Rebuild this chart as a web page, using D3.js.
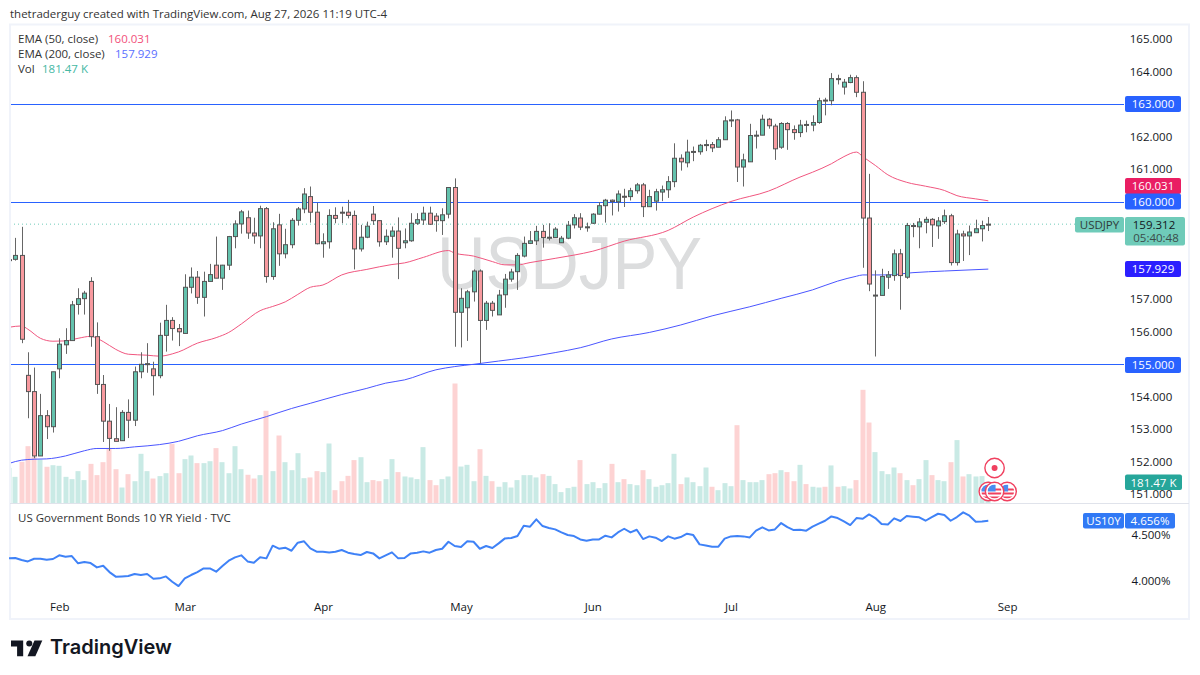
<!DOCTYPE html>
<html><head><meta charset="utf-8">
<script src="https://cdnjs.cloudflare.com/ajax/libs/d3/7.8.5/d3.min.js"></script>
<style>html,body{margin:0;padding:0;background:#fff}svg{display:block}text{font-family:"Open Sans","Noto Sans",sans-serif}</style>
</head><body><svg id="c" width="1200" height="675"></svg>
<script>
const opens=[158.20,158.23,158.35,154.66,154.16,152.18,153.42,153.08,154.86,155.60,
155.73,156.84,157.02,157.55,155.85,154.38,153.25,152.71,152.65,153.52,
153.28,154.77,155.00,154.86,154.65,155.89,156.35,156.10,155.95,157.37,
157.68,157.06,157.55,158.05,157.65,158.05,158.93,159.32,159.51,159.04,
158.95,159.79,157.70,159.29,158.40,158.68,159.43,159.78,160.16,159.68,
158.71,158.77,159.58,159.68,159.68,159.58,158.55,158.91,159.62,159.42,
158.77,158.94,159.10,158.74,158.80,159.34,159.44,159.65,159.56,159.42,
159.62,160.44,156.60,156.74,157.23,157.87,156.35,156.88,156.52,157.14,
157.62,157.85,158.33,158.72,158.80,159.09,158.90,158.90,158.74,158.88,
159.29,159.50,159.22,159.34,159.62,159.88,160.05,160.00,160.17,160.16,
160.34,160.52,159.85,160.02,160.30,160.37,160.62,161.34,161.20,161.54,
161.54,161.75,161.76,161.68,161.91,162.51,162.52,161.07,161.23,162.04,
162.05,162.54,162.33,161.68,162.41,162.22,162.13,162.38,162.36,162.44,
163.13,163.11,163.79,163.53,163.67,163.82,163.37,159.50,157.12,157.12,
157.68,157.73,158.40,157.68,159.27,159.23,159.37,159.46,159.26,159.39,
159.57,158.13,159.01,158.95,159.05,159.17,159.29];
const highs=[158.26,158.89,159.23,155.37,154.90,154.09,153.59,154.77,155.80,156.11,
156.95,157.34,157.26,157.68,156.29,154.67,153.78,153.68,153.59,153.92,
154.93,155.37,155.65,155.08,156.28,156.83,156.45,156.24,157.77,157.98,
157.87,157.85,158.09,158.93,158.06,158.95,159.43,159.75,159.73,159.51,
159.88,159.84,159.37,159.63,159.17,159.50,159.84,160.42,160.47,159.97,
159.03,159.77,159.83,159.85,160.06,159.73,159.29,159.39,159.87,159.44,
159.15,159.24,159.52,159.18,159.65,159.65,159.85,159.85,159.65,159.80,
160.44,160.72,157.34,157.29,157.92,157.92,156.95,156.95,157.29,157.78,
157.94,158.42,158.93,159.10,159.26,159.29,159.34,159.22,158.95,159.41,
159.62,159.65,159.36,159.65,159.99,160.09,160.07,160.35,160.40,160.43,
160.58,160.58,160.37,160.40,160.50,160.79,161.80,161.46,161.91,161.70,
161.78,161.91,161.84,161.99,162.63,162.81,162.55,161.48,162.40,162.19,
162.68,162.58,162.40,162.45,162.45,162.35,162.52,162.50,162.66,163.20,
163.20,163.96,163.91,163.78,163.91,163.89,163.71,160.86,157.89,157.94,
157.87,158.53,158.55,159.35,159.35,159.50,159.54,159.50,159.53,159.76,
159.63,159.14,159.11,159.27,159.45,159.42,159.53];
const lows=[158.15,158.19,155.65,153.34,152.11,152.18,152.70,152.90,154.57,155.32,
155.73,156.53,156.53,155.54,154.09,152.61,152.34,152.63,152.65,152.73,
153.10,154.57,154.74,154.04,154.57,155.39,155.73,155.56,155.95,157.18,
156.86,156.47,157.55,157.65,157.29,157.90,158.57,159.02,158.86,158.71,
158.57,157.51,157.60,158.03,158.26,158.57,159.27,159.65,159.36,158.69,
158.28,158.56,159.34,159.34,159.49,157.92,158.47,158.88,159.29,158.62,
158.67,158.28,157.62,158.57,158.77,159.29,159.29,159.29,159.08,158.98,
159.49,155.54,155.52,155.72,156.93,155.03,156.06,156.47,156.52,156.74,
157.54,157.29,158.29,158.70,158.67,158.59,158.81,158.90,158.74,158.85,
159.18,159.13,159.08,159.32,159.61,159.36,159.58,159.70,159.84,160.04,
160.25,159.53,159.85,159.73,160.02,160.12,160.45,160.96,161.06,161.25,
161.45,161.56,161.53,161.68,161.91,162.30,160.61,160.47,161.23,161.64,
162.05,162.25,161.29,161.63,161.60,161.91,161.99,162.14,162.17,162.40,
162.66,162.97,163.61,163.30,163.65,163.22,157.97,157.25,155.24,157.12,
157.32,157.57,156.68,157.63,158.91,158.57,159.03,158.61,158.86,159.32,
158.04,158.04,158.18,158.36,159.05,158.78,159.10];
const closes=[158.22,158.35,155.77,154.16,152.18,153.42,153.08,154.77,155.62,155.73,
156.83,157.02,157.19,155.85,154.38,153.25,152.72,152.63,153.52,153.28,
154.77,155.00,155.02,154.65,155.89,156.35,156.10,156.00,157.37,157.68,
157.06,157.55,157.76,157.65,158.05,158.93,159.32,159.69,159.04,158.95,
159.79,157.70,159.17,158.40,158.68,159.43,159.78,160.24,159.68,158.71,
158.77,159.58,159.49,159.67,159.58,158.55,158.91,159.25,159.42,158.77,
158.94,159.10,158.57,158.80,159.34,159.45,159.65,159.31,159.42,159.60,
160.44,156.60,157.03,157.23,157.87,156.35,156.88,156.66,157.13,157.62,
157.84,158.35,158.72,158.80,159.09,158.90,158.91,159.16,158.88,159.28,
159.51,159.22,159.23,159.62,159.88,160.05,160.01,160.24,160.16,160.34,
160.52,159.85,160.16,160.31,160.37,160.62,161.34,161.23,161.53,161.55,
161.74,161.76,161.66,161.91,162.49,162.52,161.07,161.29,162.04,162.05,
162.54,162.34,161.63,162.41,162.22,162.13,162.36,162.37,162.44,163.11,
163.12,163.79,163.78,163.68,163.82,163.37,159.50,157.47,157.13,157.70,
157.75,158.40,157.73,159.27,159.26,159.38,159.46,159.29,159.41,159.57,
158.13,159.01,158.95,159.07,159.17,159.27,159.312];
const volumesK=[294,220,344,473,385,363,303,316,311,220,
201,267,193,327,234,341,454,283,132,242,
184,410,267,206,226,250,492,250,366,396,
333,333,349,457,341,250,473,283,237,206,
234,765,267,561,341,275,415,209,215,267,
259,495,110,184,228,358,382,176,193,184,
201,366,259,223,215,201,465,193,151,201,
223,990,305,319,184,448,228,184,138,176,
132,193,234,234,215,242,228,160,94,127,
138,358,160,176,127,168,327,176,201,160,
151,275,201,138,151,168,410,160,215,176,
143,297,138,110,168,143,646,193,176,176,
193,242,250,275,259,184,319,160,138,132,
138,314,138,143,124,193,938,668,424,267,
242,297,250,193,151,201,358,234,193,184,
341,523,223,242,223,226,181.47];
const ema50Idx=[0,2,3,5,7,9,11,13,15,17,19,22,24,26,27,30,33,35,37,40,42,44,46,48,50,53,57,61,63,66,70,71,74,77,79,81,83,87,90,93,98,105,109,115,121,126,128,131,133,135,136,138,140,143,146,149,151,154,156];
const ema50=[156.14,156.18,156.08,155.80,155.71,155.72,155.80,155.86,155.70,155.46,155.31,155.28,155.25,155.32,155.38,155.65,155.82,155.98,156.24,156.65,156.78,156.92,157.15,157.37,157.44,157.75,157.92,158.07,158.12,158.29,158.50,158.42,158.33,158.16,158.06,158.06,158.13,158.26,158.36,158.48,158.79,159.12,159.53,160.01,160.33,160.76,160.91,161.17,161.39,161.53,161.39,161.12,160.83,160.60,160.48,160.35,160.19,160.09,160.031];
const ema200Idx=[0,2,4,6,9,12,14,17,20,24,27,30,34,37,41,45,48,53,57,60,63,68,71,74,78,82,87,91,96,102,107,112,118,123,128,132,135,136,140,144,149,156];
const ema200=[151.95,152.05,152.08,152.09,152.18,152.34,152.41,152.41,152.46,152.53,152.63,152.80,152.96,153.16,153.39,153.64,153.80,154.07,154.26,154.42,154.52,154.83,154.93,155.00,155.10,155.20,155.36,155.51,155.78,155.98,156.21,156.49,156.77,157.03,157.29,157.56,157.71,157.75,157.75,157.82,157.87,157.929];
const yields=[4.246,4.250,4.228,4.213,4.242,4.242,4.231,4.239,4.279,4.264,
4.271,4.192,4.206,4.195,4.148,4.166,4.097,4.047,4.050,4.054,
4.076,4.065,4.076,4.025,4.029,4.050,3.992,3.945,4.029,4.065,
4.097,4.137,4.137,4.101,4.163,4.221,4.257,4.279,4.213,4.199,
4.257,4.246,4.384,4.351,4.362,4.329,4.416,4.431,4.355,4.318,
4.318,4.311,4.318,4.337,4.308,4.293,4.282,4.315,4.300,4.246,
4.279,4.311,4.246,4.250,4.300,4.308,4.322,4.308,4.337,4.351,
4.427,4.380,4.369,4.431,4.427,4.351,4.380,4.358,4.409,4.463,
4.467,4.489,4.601,4.590,4.670,4.597,4.576,4.561,4.529,4.500,
4.489,4.452,4.438,4.452,4.452,4.492,4.474,4.528,4.568,4.528,
4.557,4.456,4.485,4.471,4.434,4.485,4.460,4.478,4.514,4.499,
4.398,4.387,4.373,4.373,4.460,4.485,4.489,4.485,4.474,4.547,
4.583,4.550,4.561,4.630,4.586,4.554,4.557,4.547,4.590,4.623,
4.655,4.702,4.684,4.648,4.608,4.684,4.677,4.724,4.684,4.619,
4.615,4.681,4.652,4.706,4.699,4.692,4.655,4.695,4.731,4.717,
4.655,4.695,4.746,4.710,4.644,4.648,4.656];
const monthLabels=["Feb","Mar","Apr","May","Jun","Jul","Aug","Sep"];
const monthIdx=[8,28,50,72,93,115,138,159];
const priceTicks=[165,164,162,161,157,156,154,153,152,151];
const levels=[163,160,155];
const yieldTicks=[4.5,4.0];
const lastPrice=159.312;

const svg=d3.select("#c");
const INK="#131722";
const x=d3.scaleLinear().domain([1,156]).range([15.3,988.3]);
const y=d3.scaleLinear().domain([155,163]).range([364.3,104.3]);
const vy=d3.scaleLinear().domain([0,990]).range([503.5,383.5]);
const yy=d3.scaleLinear().domain([4,4.5]).range([581,535]);
const px=i=>Math.round(x(i));
const idx=d3.range(closes.length);

// header
svg.append("text").attr("x",10).attr("y",17.5).attr("font-size",11.5).attr("fill","#333").text("thetraderguy created with TradingView.com, Aug 27, 2026 11:19 UTC-4");

// frame
svg.append("rect").attr("x",10).attr("y",24.5).attr("width",1179).attr("height",594.5).attr("fill","#fff").attr("stroke","#f0f3fa").attr("stroke-width",2);

const defs=svg.append("defs");
defs.append("clipPath").attr("id","pane").append("rect").attr("x",11).attr("y",26).attr("width",1113).attr("height",477.5);
const pane=svg.append("g").attr("clip-path","url(#pane)");

// watermark
pane.append("text").attr("x",437).attr("y",289).attr("font-size",74).attr("textLength",265).attr("lengthAdjust","spacingAndGlyphs").attr("fill","#dcddde").style("font-family","'Liberation Sans',sans-serif").text("USDJPY");

// volume
pane.append("g").selectAll("rect").data(idx).join("rect")
  .attr("x",i=>px(i)-2.5).attr("width",5).attr("y",i=>vy(volumesK[i])).attr("height",i=>vy(0)-vy(volumesK[i]))
  .attr("fill",i=>closes[i]>=opens[i]?"#c9eae5":"#fdd3d3");

// levels
pane.append("g").selectAll("line").data(levels).join("line")
  .attr("x1",10).attr("x2",1125).attr("y1",d=>Math.round(y(d))+.5).attr("y2",d=>Math.round(y(d))+.5)
  .attr("stroke","#2962ff").attr("stroke-width",1);

// last price
pane.append("line").attr("x1",10).attr("x2",1075).attr("y1",y(lastPrice)).attr("y2",y(lastPrice))
  .attr("stroke","#6fcbb9").attr("stroke-width",1).attr("stroke-dasharray","1 3");

// EMAs
const emaLine=d3.line().x(d=>x(d[0])).y(d=>y(d[1])).curve(d3.curveMonotoneX);
pane.append("path").attr("d",emaLine(ema200Idx.map((d,i)=>[d,ema200[i]]))).attr("fill","none").attr("stroke","#4a55ff").attr("stroke-width",1);
pane.append("path").attr("d",emaLine(ema50Idx.map((d,i)=>[d,ema50[i]]))).attr("fill","none").attr("stroke","#f0567f").attr("stroke-width",1);

// candles
const candle=pane.append("g").selectAll("g").data(idx).join("g");
candle.append("line").attr("x1",i=>px(i)+.5).attr("x2",i=>px(i)+.5)
  .attr("y1",i=>y(highs[i])).attr("y2",i=>y(lows[i])).attr("stroke","#666").attr("stroke-width",1);
candle.append("rect").attr("x",i=>px(i)-1.5).attr("width",4)
  .attr("y",i=>y(Math.max(opens[i],closes[i])))
  .attr("height",i=>Math.max(1,Math.abs(y(opens[i])-y(closes[i]))))
  .attr("fill",i=>closes[i]>=opens[i]?"#63c2ad":"#f89a9f").attr("stroke","#555").attr("stroke-width",1);

// event icons
const flagIdx=[156,157,159];
const flagY=491.5;
const iconG=svg.append("g");
defs.append("clipPath").attr("id","fc").append("circle").attr("r",7);
iconG.selectAll("g.flag").data([flagIdx[2],flagIdx[0],flagIdx[1]]).join("g").attr("class","flag")
 .attr("transform",d=>`translate(${x(d)},${flagY})`).each(function(){
   const g=d3.select(this);
   g.append("circle").attr("r",9.2).attr("fill","#fff").attr("stroke","#f0405f").attr("stroke-width",1.4);
   const f=g.append("g").attr("clip-path","url(#fc)");
   f.append("rect").attr("x",-7).attr("y",-7).attr("width",14).attr("height",14).attr("fill","#fff");
   f.append("rect").attr("x",-7).attr("y",1).attr("width",14).attr("height",2).attr("fill","#f0405f");
   f.append("rect").attr("x",-7).attr("y",5).attr("width",14).attr("height",2).attr("fill","#f0405f");
   f.append("rect").attr("x",-7).attr("y",-3).attr("width",14).attr("height",2).attr("fill","#f0405f");
   f.append("rect").attr("x",-7).attr("y",-7).attr("width",8).attr("height",7).attr("fill","#4a8cf0");
 });
iconG.append("circle").attr("cx",x(157)).attr("cy",468).attr("r",9.7).attr("fill","#fff").attr("stroke","#f0405f").attr("stroke-width",1.4);
iconG.append("circle").attr("cx",x(157)).attr("cy",468).attr("r",3).attr("fill","#f0405f");

// separator
svg.append("line").attr("x1",10).attr("x2",1189).attr("y1",503.5).attr("y2",503.5).attr("stroke","#e0e3eb");

// yield line
const yl=d3.line().x((d,i)=>x(i)).y(d=>yy(d));
svg.append("path").attr("d",yl(yields)).attr("fill","none").attr("stroke","#3f82f7").attr("stroke-width",2).attr("stroke-linejoin","round");

// axes
const axP=d3.axisRight(y).tickValues(priceTicks).tickSize(0).tickPadding(0).tickFormat(d3.format(".3f"));
const gP=svg.append("g").attr("transform","translate(1151,0)").call(axP);
gP.select(".domain").remove();
gP.selectAll("text").attr("text-anchor","middle").attr("font-size",11.5).attr("fill",INK).style("font-family",'"Open Sans",sans-serif');

const axY=d3.axisRight(yy).tickValues(yieldTicks).tickSize(0).tickPadding(0).tickFormat(d=>d3.format(".3f")(d)+"%");
const gY=svg.append("g").attr("transform","translate(1151,0)").call(axY);
gY.select(".domain").remove();
gY.selectAll("text").attr("text-anchor","middle").attr("font-size",11.5).attr("fill",INK).style("font-family",'"Open Sans",sans-serif');

const axM=d3.axisBottom(x).tickValues(monthIdx).tickSize(0).tickPadding(0).tickFormat((d,i)=>monthLabels[i]);
const gM=svg.append("g").attr("transform","translate(0,603)").call(axM);
gM.select(".domain").remove();
gM.selectAll("text").attr("font-size",11.5).attr("fill",INK).style("font-family",'"Open Sans",sans-serif');

// price boxes
function box(x0,y0,w,h,fill,lines,color){
  svg.append("rect").attr("x",x0).attr("y",y0).attr("width",w).attr("height",h).attr("rx",2).attr("fill",fill);
  lines.forEach(l=>svg.append("text").attr("x",x0+(l.dx??w/2)).attr("y",y0+l.dy).attr("text-anchor","middle").attr("font-size",11.5).attr("fill",l.c||color).text(l.t));
}
box(1125,96,56,16,"#2962ff",[{t:"163.000",dy:12}],"#fff");
box(1125,178,56,16,"#e91e63",[{t:"160.031",dy:12}],"#fff");
box(1125,193.5,56,16,"#2962ff",[{t:"160.000",dy:12}],"#fff");
box(1125,217,60,28.5,"#6fcbb9",[{t:"159.312",dy:11.5,dx:29,c:INK},{t:"05:40:48",dy:25,dx:31,c:"#3b4b49"}]);
box(1075,217,49,15.5,"#6fcbb9",[{t:"USDJPY",dy:12,c:"#2f3b3a"}]);
box(1125,261,56,16,"#2b1fff",[{t:"157.929",dy:12}],"#fff");
box(1125,357,56,16,"#2962ff",[{t:"155.000",dy:12}],"#fff");
box(1125,474.5,57,15.5,"#26a69a",[{t:"181.47 K",dy:12}],"#fff");
box(1083,513,41,15.5,"#3179f5",[{t:"US10Y",dy:12}],"#fff");
box(1125,513,50,15.5,"#3179f5",[{t:"4.656%",dy:12}],"#fff");

// legend
function leg(yp,label,val,xv,col){
  svg.append("text").attr("x",18).attr("y",yp).attr("font-size",11.5).attr("fill","#333").text(label);
  svg.append("text").attr("x",xv).attr("y",yp).attr("font-size",11.5).attr("fill",col).text(val);
}
leg(42.5,"EMA (50, close)","160.031",108,"#f2507a");
leg(58,"EMA (200, close)","157.929",115,"#5a6fff");
leg(73,"Vol","181.47 K",42,"#45b8a4");
svg.append("text").attr("x",18).attr("y",521.5).attr("font-size",11.5).attr("fill","#333").text("US Government Bonds 10 YR Yield · TVC");

// logo
const logo=svg.append("g").attr("transform","translate(11,637) scale(0.87)").attr("fill","#131722");
logo.append("path").attr("d","M14 4H0v7h7v11h7V4Z");
logo.append("circle").attr("cx",21).attr("cy",7.5).attr("r",3.5);
logo.append("path").attr("d","M27 4h9L28 22h-9L27 4Z");
svg.append("text").attr("x",50).attr("y",654).attr("font-size",20).attr("font-weight",600).attr("fill","#131722").style("font-family","Inter,sans-serif").text("TradingView");
</script></body></html>
